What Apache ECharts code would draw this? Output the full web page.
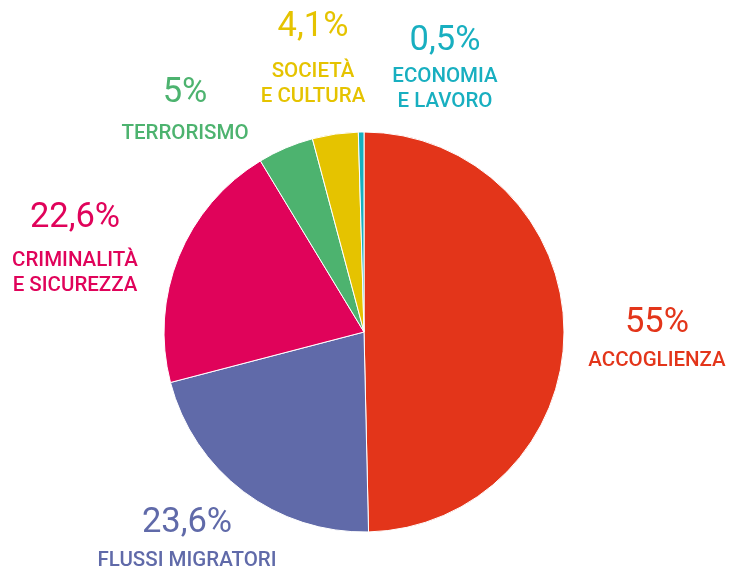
<!DOCTYPE html>
<html><head><meta charset="utf-8">
<script src="https://cdn.jsdelivr.net/npm/echarts@6/dist/echarts.min.js"></script>
<style>html,body{margin:0;padding:0;background:#fff}#c{width:729px;height:571px}</style>
</head><body><div id="c"></div>
<script>
const categories = ['ACCOGLIENZA', 'FLUSSI MIGRATORI', 'CRIMINALITÀ\nE SICUREZZA', 'TERRORISMO', 'SOCIETÀ\nE CULTURA', 'ECONOMIA\nE LAVORO'];
const values = [55, 23.6, 22.6, 5, 4.1, 0.5];
const valueLabels = ['55%', '23,6%', '22,6%', '5%', '4,1%', '0,5%'];
const colors = ['#E3351A', '#606AA9', '#E0035A', '#4DB36F', '#E5C300', '#18AFC0'];
// label layout: [centerX, valueCenterY, gap from value center to first name line center]
const labelPos = [[657, 323, 38], [187, 523, 38], [75, 218, 43], [185, 93, 41], [313, 27, 45], [445, 41, 36]];

const chart = echarts.init(document.getElementById('c'));
const data = values.map((v, i) => {
  const L1 = 2 * (labelPos[i][2] - 12.5);
  return {
    value: v,
    name: categories[i],
    itemStyle: { color: colors[i] },
    label: {
      color: colors[i],
      formatter: '{v|' + valueLabels[i] + '}\n' + categories[i].split('\n').map(s => '{n|' + s + '}').join('\n'),
      rich: {
        v: { fontSize: 34.5, lineHeight: L1, fontFamily: 'Roboto', fontWeight: 400, color: colors[i], align: 'center' },
        n: { fontSize: 20.5, lineHeight: 25, fontFamily: 'Roboto', fontWeight: 500, color: colors[i], align: 'center' }
      }
    }
  };
});
chart.setOption({
  animation: false,
  series: [{
    type: 'pie',
    center: [364, 332],
    radius: [0, 200],
    startAngle: 90,
    clockwise: true,
    data: data,
    itemStyle: { borderColor: '#fff', borderWidth: 1 },
    label: { show: true, position: 'outside', alignTo: 'none', overflow: 'none', edgeDistance: 0 },
    labelLine: { show: false },
    labelLayout: function (p) {
      const i = p.dataIndex;
      const L1 = 2 * (labelPos[i][2] - 12.5);
      return { x: labelPos[i][0], y: labelPos[i][1] - L1 / 2, align: 'center', verticalAlign: 'top', width: 300 };
    },
    emphasis: { disabled: true }
  }]
});
</script></body></html>
